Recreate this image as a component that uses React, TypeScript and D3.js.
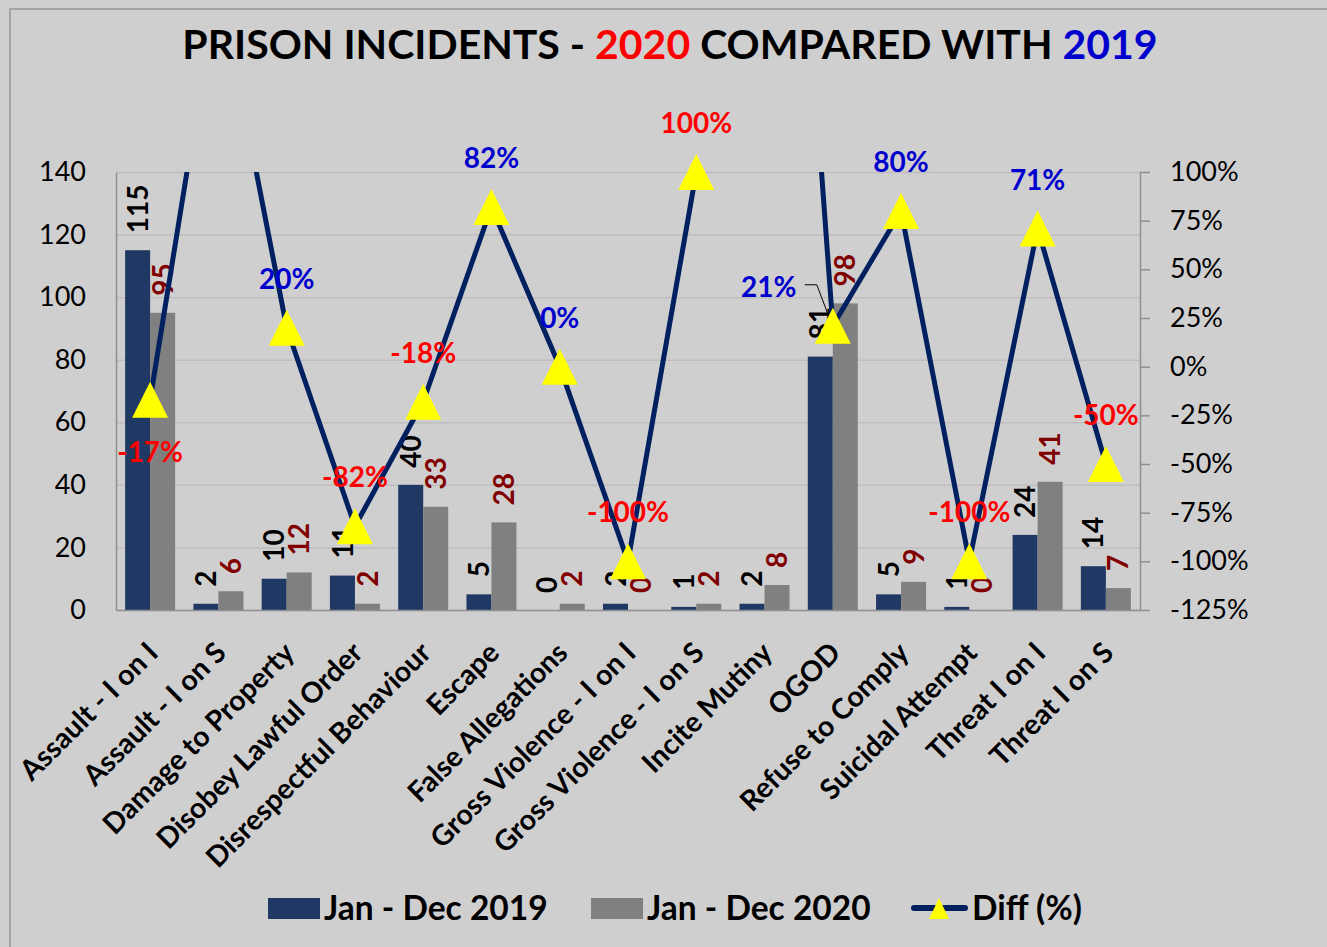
import React, { useRef, useEffect } from 'react';
import { select, scaleBand, scaleLinear, axisLeft, axisRight, axisBottom, line } from 'd3';

const categories = [
    "Assault - I on I",
    "Assault - I on S",
    "Damage to Property",
    "Disobey Lawful Order",
    "Disrespectful Behaviour",
    "Escape",
    "False Allegations",
    "Gross Violence - I on I",
    "Gross Violence - I on S",
    "Incite Mutiny",
    "OGOD",
    "Refuse to Comply",
    "Suicidal Attempt",
    "Threat I on I",
    "Threat I on S",
];
const jan2019 = [115, 2, 10, 11, 40, 5, 0, 2, 1, 2, 81, 5, 1, 24, 14];
const jan2020 = [95, 6, 12, 2, 33, 28, 2, 0, 2, 8, 98, 9, 0, 41, 7];
const diffPct = [-17, 200, 20, -82, -18, 82, 0, -100, 100, 500, 21, 80, -100, 71, -50];

const countTicks = [0, 20, 40, 60, 80, 100, 120, 140];
const pctTicks = [-125, -100, -75, -50, -25, 0, 25, 50, 75, 100];
const seriesNames = ["Jan - Dec 2019", "Jan - Dec 2020", "Diff (%)"];

const FONT = "Lato, 'Open Sans', sans-serif";
const BG = "#d0cfd0";
const NAVY = "#203864";
const GREY = "#808080";
const LINE = "#002060";
const RED = "#ff0000";
const BLUE = "#0000cc";

export default function App() {
    const ref = useRef<SVGSVGElement | null>(null);

    useEffect(() => {
        if (!ref.current) return;
        document.body.style.margin = "0";
        const svg = select(ref.current);
        svg.selectAll("*").remove();

        const W = 1327, H = 947;
        const plot = { left: 116, right: 1140, top: 172, bottom: 610 };

        const x = scaleBand<string>().domain(categories).range([plot.left, plot.right]);
        const bw = x.bandwidth();
        const xs = scaleBand<string>().domain(["2019", "2020"]).range([0, bw]).paddingOuter(0.365);
        const yL = scaleLinear().domain([0, 140]).range([plot.bottom, plot.top]);
        const yR = scaleLinear().domain([-125, 100]).range([plot.bottom, plot.top]);
        const cx = (i: number) => (x(categories[i]) as number) + bw / 2;

        svg.append("rect").attr("width", W).attr("height", H).attr("fill", BG);
        svg.append("rect")
            .attr("x", 10).attr("y", 9).attr("width", W + 20).attr("height", H + 20)
            .attr("fill", "none").attr("stroke", "#a3a3a3").attr("stroke-width", 2);

        // title
        const title = svg.append("text")
            .attr("x", 670).attr("y", 59)
            .attr("text-anchor", "middle")
            .style("font-family", FONT).style("font-weight", 700).style("font-size", "41px");
        title.append("tspan").attr("fill", "#000").text("PRISON INCIDENTS - ");
        title.append("tspan").attr("fill", RED).text("2020");
        title.append("tspan").attr("fill", "#000").text(" COMPARED WITH ");
        title.append("tspan").attr("fill", BLUE).text("2019");

        // grid
        svg.append("g")
            .attr("transform", `translate(${plot.left},0)`)
            .call(axisLeft(yL).tickValues(countTicks).tickSize(-(plot.right - plot.left)).tickFormat(() => ""))
            .call(g => g.select(".domain").remove())
            .call(g => g.selectAll(".tick line").attr("stroke", "#bfbdbe").attr("stroke-width", 1.5));

        // bars
        const groups = svg.append("g").selectAll("g")
            .data(categories)
            .join("g")
            .attr("transform", d => `translate(${x(d)},0)`);
        groups.append("rect")
            .attr("x", xs("2019") as number)
            .attr("width", xs.bandwidth())
            .attr("y", (_, i) => yL(jan2019[i]))
            .attr("height", (_, i) => plot.bottom - yL(jan2019[i]))
            .attr("fill", NAVY);
        groups.append("rect")
            .attr("x", xs("2020") as number)
            .attr("width", xs.bandwidth())
            .attr("y", (_, i) => yL(jan2020[i]))
            .attr("height", (_, i) => plot.bottom - yL(jan2020[i]))
            .attr("fill", GREY);

        // axes
        svg.append("g")
            .attr("transform", `translate(${plot.left},0)`)
            .call(axisLeft(yL).tickValues(countTicks).tickSize(0).tickSizeOuter(0).tickPadding(30))
            .call(g => g.select(".domain").attr("stroke", "#8f8f8f").attr("stroke-width", 1.5))
            .call(g => g.selectAll("text").attr("fill", "#000").style("font-family", FONT).style("font-size", "27px"));

        svg.append("g")
            .attr("transform", `translate(${plot.right},0)`)
            .call(axisRight(yR).tickValues(pctTicks).tickSize(10).tickSizeOuter(0).tickPadding(20).tickFormat(d => `${d}%`))
            .call(g => g.select(".domain").attr("stroke", "#8f8f8f").attr("stroke-width", 1.5))
            .call(g => g.selectAll(".tick line").attr("stroke", "#8f8f8f").attr("stroke-width", 1.5))
            .call(g => g.selectAll("text").attr("fill", "#000").style("font-family", FONT).style("font-size", "27px"));

        svg.append("g")
            .attr("transform", `translate(0,${plot.bottom})`)
            .call(axisBottom(x).tickSize(0).tickSizeOuter(0))
            .call(g => g.select(".domain").attr("stroke", "#8f8f8f").attr("stroke-width", 1.5))
            .call(g => g.selectAll("text")
                .attr("x", 0).attr("y", 0).attr("dy", "0.72em")
                .attr("transform", "translate(-5,30) rotate(-45)")
                .attr("text-anchor", "end")
                .attr("fill", "#000")
                .style("font-family", FONT).style("font-weight", 700).style("font-size", "28.5px"));

        // bar value labels
        const barLabel = (vals: number[], key: string, color: string) => {
            svg.append("g").selectAll("text")
                .data(vals)
                .join("text")
                .attr("transform", (d, i) => `translate(${(x(categories[i]) as number) + (xs(key) as number) + xs.bandwidth() / 2},${yL(d) - 17}) rotate(-90)`)
                .attr("dy", "0.36em")
                .attr("fill", color)
                .style("font-family", FONT).style("font-weight", 700).style("font-size", "28px")
                .text(d => d);
        };
        barLabel(jan2019, "2019", "#000");
        barLabel(jan2020, "2020", "#800000");

        // diff line, clipped to plot area
        svg.append("clipPath").attr("id", "plotClip")
            .append("rect")
            .attr("x", plot.left).attr("y", plot.top)
            .attr("width", plot.right - plot.left).attr("height", plot.bottom - plot.top);
        svg.append("path")
            .datum(diffPct)
            .attr("clip-path", "url(#plotClip)")
            .attr("fill", "none")
            .attr("stroke", LINE)
            .attr("stroke-width", 5)
            .attr("stroke-linejoin", "round")
            .attr("d", line<number>().x((_, i) => cx(i)).y(d => yR(d)));

        const visible = diffPct.map((d, i) => ({ d, i })).filter(p => p.d >= -125 && p.d <= 100);
        const tri = 18;
        svg.append("g").selectAll("path")
            .data(visible)
            .join("path")
            .attr("d", p => {
                const px = cx(p.i), py = yR(p.d);
                return `M${px},${py - tri}L${px + tri},${py + tri}L${px - tri},${py + tri}Z`;
            })
            .attr("fill", "#ffff00");

        // diff labels
        const below = new Set(["Assault - I on I"]);
        const leftLeader = new Set(["OGOD"]);
        const lbl = svg.append("g");
        visible.forEach(p => {
            const px = cx(p.i), py = yR(p.d);
            const cat = categories[p.i];
            let lx = px, ly = py - 49;
            if (below.has(cat)) ly = py + 52;
            if (leftLeader.has(cat)) {
                lx = px - 64; ly = py - 39;
                lbl.append("path")
                    .attr("d", `M${px - 28},${py - 41}L${px - 16},${py - 41}L${px - 5},${py - 12}`)
                    .attr("fill", "none").attr("stroke", "#000").attr("stroke-width", 1);
            }
            lbl.append("text")
                .attr("x", lx).attr("y", ly)
                .attr("dy", "0.36em")
                .attr("text-anchor", "middle")
                .attr("fill", p.d < 0 || p.d >= 100 ? RED : BLUE)
                .style("font-family", FONT).style("font-weight", 700).style("font-size", "28px")
                .text(`${p.d}%`);
        });

        // legend
        const leg = svg.append("g").style("font-family", FONT).style("font-weight", 700).style("font-size", "33.5px");
        leg.append("rect").attr("x", 268).attr("y", 898).attr("width", 52).attr("height", 21).attr("fill", NAVY);
        leg.append("text").attr("x", 324).attr("y", 920).text(seriesNames[0]);
        leg.append("rect").attr("x", 591).attr("y", 898).attr("width", 52).attr("height", 21).attr("fill", GREY);
        leg.append("text").attr("x", 647).attr("y", 920).text(seriesNames[1]);
        leg.append("line").attr("x1", 914).attr("x2", 965).attr("y1", 908).attr("y2", 908)
            .attr("stroke", LINE).attr("stroke-width", 6).attr("stroke-linecap", "round");
        leg.append("path").attr("d", "M939,898L949,919L929,919Z").attr("fill", "#ffff00");
        leg.append("text").attr("x", 972).attr("y", 920).text(seriesNames[2]);
    }, []);

    return <svg ref={ref} width={1327} height={947} style={{ display: "block" }} />;
}
